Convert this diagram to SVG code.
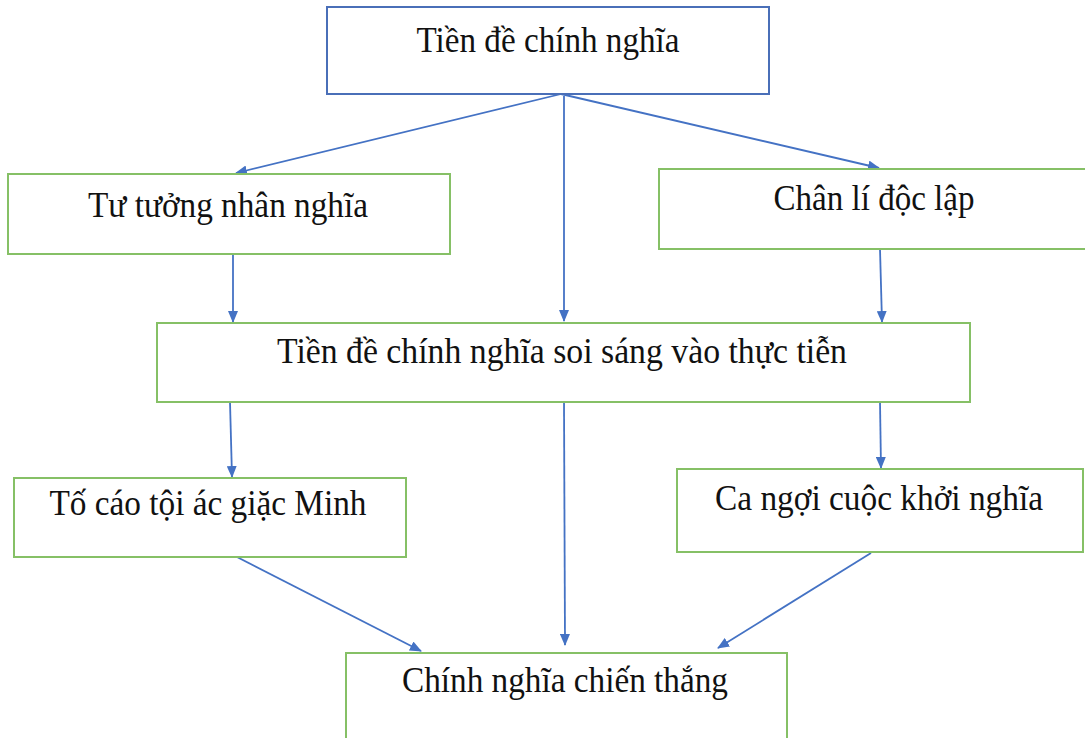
<svg xmlns="http://www.w3.org/2000/svg" width="1085" height="738" viewBox="0 0 1085 738">
  <style>
    .box { fill: #ffffff; stroke: #86c066; stroke-width: 2; }
    .box-top { fill: #ffffff; stroke: #4a6fb8; stroke-width: 2; }
    .lbl { font-family: "Liberation Serif", "Times New Roman", serif; font-size: 35px; fill: #111111; text-anchor: middle; }
    .conn line { stroke: #4472c4; stroke-width: 1.8; fill: none; marker-end: url(#arr); }
  </style>
  <defs>
    <marker id="arr" viewBox="0 0 12 10" refX="11" refY="5" markerWidth="12" markerHeight="10" markerUnits="userSpaceOnUse" orient="auto">
      <path d="M0,0 L12,5 L0,10 z" fill="#4472c4"/>
    </marker>
  </defs>
  <rect width="1085" height="738" fill="#ffffff"/>

  <g id="connectors" class="conn">
    <line x1="561" y1="94" x2="236" y2="173"/>
    <line x1="561" y1="94" x2="879" y2="168"/>
    <line x1="564" y1="96" x2="564" y2="321"/>
    <line x1="233" y1="254" x2="233" y2="322"/>
    <line x1="880" y1="249" x2="882" y2="322"/>
    <line x1="230" y1="402" x2="232" y2="477"/>
    <line x1="564" y1="402" x2="565" y2="645"/>
    <line x1="880" y1="402" x2="881" y2="468"/>
    <line x1="237" y1="557" x2="421" y2="651"/>
    <line x1="871" y1="553" x2="718" y2="648"/>
  </g>

  <g id="n-tien-de">
    <rect class="box-top" x="327" y="7" width="442" height="87"/>
    <text class="lbl" x="548" y="52" textLength="263" lengthAdjust="spacingAndGlyphs">Tiền đề chính nghĩa</text>
  </g>
  <g id="n-tu-tuong">
    <rect class="box" x="8" y="174" width="442" height="80"/>
    <text class="lbl" x="228" y="217" textLength="280" lengthAdjust="spacingAndGlyphs">Tư tưởng nhân nghĩa</text>
  </g>
  <g id="n-chan-li">
    <rect class="box" x="659" y="169" width="432" height="80"/>
    <text class="lbl" x="874" y="210" textLength="201" lengthAdjust="spacingAndGlyphs">Chân lí độc lập</text>
  </g>
  <g id="n-soi-sang">
    <rect class="box" x="157" y="323" width="813" height="79"/>
    <text class="lbl" x="562" y="363" textLength="570" lengthAdjust="spacingAndGlyphs">Tiền đề chính nghĩa soi sáng vào thực tiễn</text>
  </g>
  <g id="n-to-cao">
    <rect class="box" x="14" y="478" width="392" height="79"/>
    <text class="lbl" x="208" y="515" textLength="317" lengthAdjust="spacingAndGlyphs">Tố cáo tội ác giặc Minh</text>
  </g>
  <g id="n-ca-ngoi">
    <rect class="box" x="677" y="469" width="406" height="83"/>
    <text class="lbl" x="879" y="510" textLength="328" lengthAdjust="spacingAndGlyphs">Ca ngợi cuộc khởi nghĩa</text>
  </g>
  <g id="n-chien-thang">
    <rect class="box" x="346" y="653" width="441" height="95"/>
    <text class="lbl" x="565" y="692" textLength="326" lengthAdjust="spacingAndGlyphs">Chính nghĩa chiến thắng</text>
  </g>
</svg>
